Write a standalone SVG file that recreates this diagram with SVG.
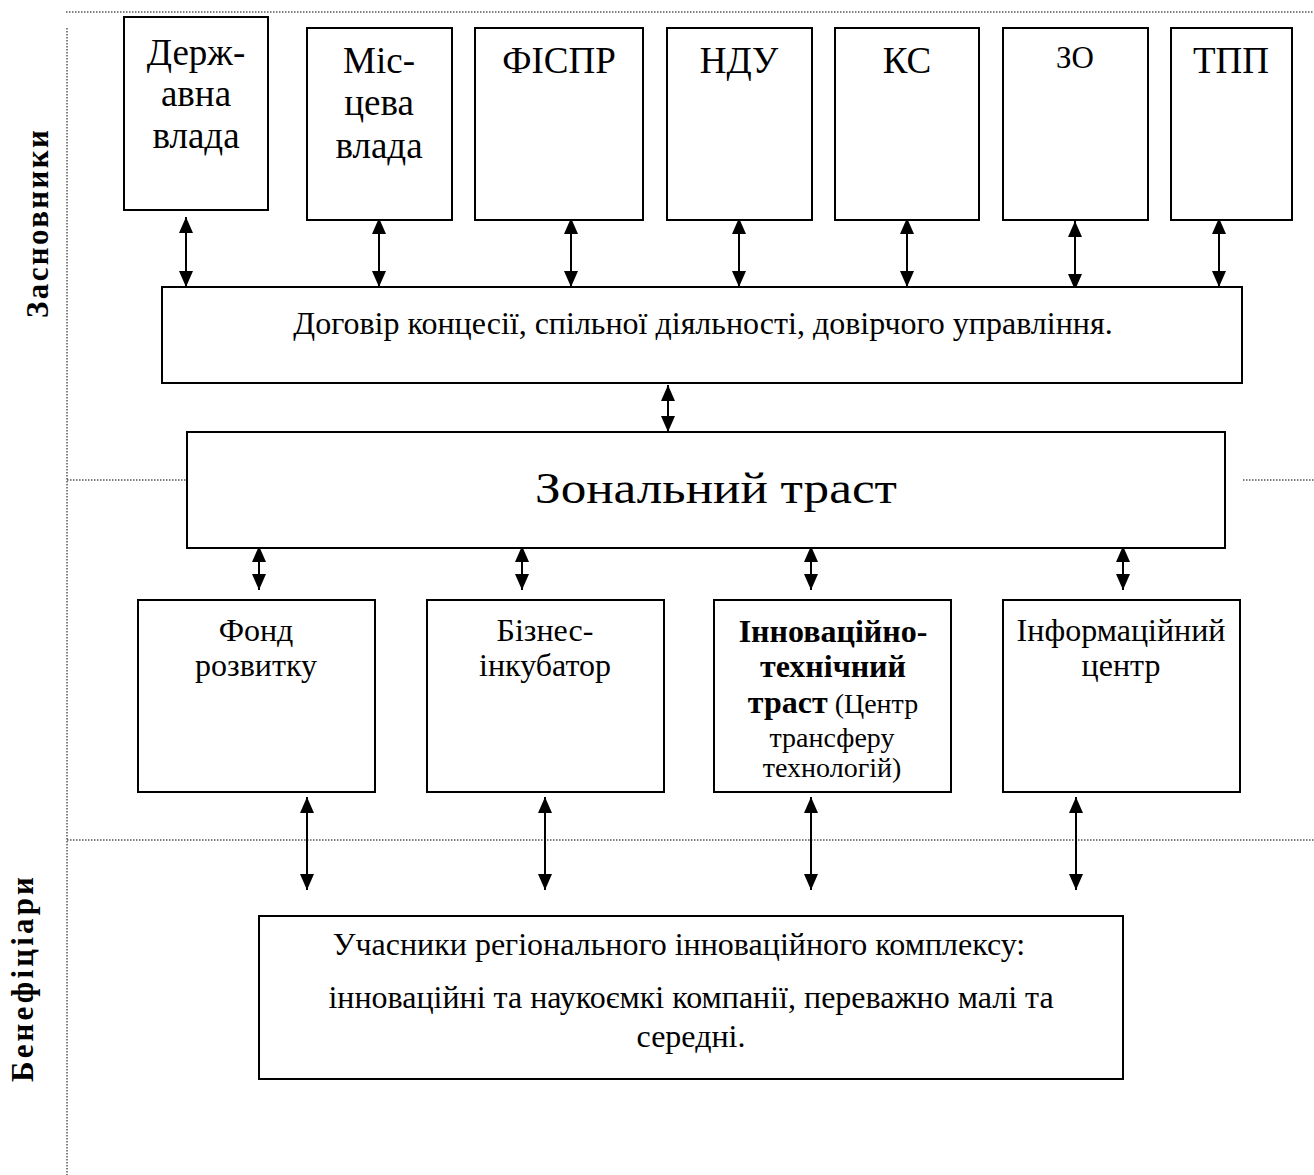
<svg xmlns="http://www.w3.org/2000/svg" width="1314" height="1175" viewBox="0 0 1314 1175">
<style>
.box{fill:#fff;stroke:#000;stroke-width:2}
.t{font-family:"Liberation Serif","Times New Roman",serif;fill:#000;text-anchor:middle}
.top{font-size:37px}
.mid{font-size:32px}
.sm{font-size:28px}
.dot{stroke:#000;stroke-width:1;stroke-dasharray:1.5 1.5;fill:none}
.con{stroke:#000;stroke-width:2;fill:none;marker-start:url(#ah);marker-end:url(#ah)}
.lab{font-family:"Liberation Serif","Times New Roman",serif;font-weight:bold;font-size:31px;fill:#000}
</style>
<defs>
<marker id="ah" markerUnits="userSpaceOnUse" markerWidth="16" markerHeight="14" refX="16" refY="7" orient="auto-start-reverse">
<path d="M0,0 L16,7 L0,14 Z" fill="#000"/>
</marker>
</defs>
<rect width="1314" height="1175" fill="#fff"/>
<g id="guides">
<line class="dot" x1="66" y1="12" x2="1314" y2="12"/>
<line class="dot" x1="67" y1="28" x2="67" y2="1175"/>
<line class="dot" x1="67" y1="480" x2="186" y2="480"/>
<line class="dot" x1="1243" y1="480" x2="1314" y2="480"/>
<line class="dot" x1="67" y1="840" x2="1314" y2="840"/>
</g>
<g id="label-zasnovnyky"><text class="lab" transform="translate(48,318) rotate(-90)" textLength="188" lengthAdjust="spacing">Засновники</text></g>
<g id="label-beneficiary"><text class="lab" transform="translate(33,1082) rotate(-90)" textLength="205" lengthAdjust="spacing">Бенефіціари</text></g>
<g id="connectors">
<line class="con" x1="186" y1="217" x2="186" y2="287"/>
<line class="con" x1="379" y1="218" x2="379" y2="287"/>
<line class="con" x1="571" y1="218" x2="571" y2="287"/>
<line class="con" x1="739" y1="218" x2="739" y2="287"/>
<line class="con" x1="907" y1="218" x2="907" y2="287"/>
<line class="con" x1="1075" y1="221" x2="1075" y2="290"/>
<line class="con" x1="1219" y1="218" x2="1219" y2="287"/>
<line class="con" x1="668" y1="385" x2="668" y2="432"/>
<line class="con" x1="259" y1="546" x2="259" y2="590"/>
<line class="con" x1="522" y1="546" x2="522" y2="590"/>
<line class="con" x1="811" y1="546" x2="811" y2="590"/>
<line class="con" x1="1123" y1="546" x2="1123" y2="590"/>
<line class="con" x1="307" y1="797" x2="307" y2="890"/>
<line class="con" x1="545" y1="797" x2="545" y2="890"/>
<line class="con" x1="811" y1="797" x2="811" y2="890"/>
<line class="con" x1="1076" y1="797" x2="1076" y2="890"/>
</g>
<g id="derzh"><rect class="box" x="124" y="17" width="144" height="193"/>
<text class="t top" x="196" y="65">Держ-</text><text class="t top" x="196" y="106">авна</text><text class="t top" x="196" y="148">влада</text></g>
<g id="mists"><rect class="box" x="307" y="28" width="145" height="192"/>
<text class="t top" x="379" y="73">Міс-</text><text class="t top" x="379" y="115">цева</text><text class="t top" x="379" y="158">влада</text></g>
<g id="fispr"><rect class="box" x="475" y="28" width="168" height="192"/><text class="t top" x="559" y="73">ФІСПР</text></g>
<g id="ndu"><rect class="box" x="667" y="28" width="145" height="192"/><text class="t top" x="739" y="73">НДУ</text></g>
<g id="ks"><rect class="box" x="835" y="28" width="144" height="192"/><text class="t top" x="907" y="73">КС</text></g>
<g id="zo"><rect class="box" x="1003" y="28" width="145" height="192"/><text class="t" style="font-size:31px" x="1075" y="68">ЗО</text></g>
<g id="tpp"><rect class="box" x="1171" y="28" width="121" height="192"/><text class="t top" x="1231" y="73">ТПП</text></g>
<g id="contract"><rect class="box" x="162" y="287" width="1080" height="96"/>
<text class="t mid" x="703" y="334">Договір концесії, спільної діяльності, довірчого управління.</text></g>
<g id="trust"><rect class="box" x="187" y="432" width="1038" height="116"/>
<text class="t" style="font-size:44px;text-anchor:start" x="535" y="503" textLength="362" lengthAdjust="spacingAndGlyphs">Зональний траст</text></g>
<g id="fond"><rect class="box" x="138" y="600" width="237" height="192"/>
<text class="t mid" x="256" y="641">Фонд</text><text class="t mid" x="256" y="676">розвитку</text></g>
<g id="biznes"><rect class="box" x="427" y="600" width="237" height="192"/>
<text class="t mid" x="545" y="641">Бізнес-</text><text class="t mid" x="545" y="676">інкубатор</text></g>
<g id="innov"><rect class="box" x="714" y="600" width="237" height="192"/>
<text class="t mid" style="font-weight:bold" x="833" y="642">Інноваційно-</text>
<text class="t mid" style="font-weight:bold" x="833" y="677">технічний</text>
<text class="t mid" x="833" y="713"><tspan style="font-weight:bold">траст</tspan><tspan class="sm"> (Центр</tspan></text>
<text class="t sm" x="832" y="747">трансферу</text>
<text class="t sm" x="832" y="777">технологій)</text></g>
<g id="info"><rect class="box" x="1003" y="600" width="237" height="192"/>
<text class="t mid" x="1121" y="641">Інформаційний</text><text class="t mid" x="1121" y="676">центр</text></g>
<g id="participants"><rect class="box" x="259" y="916" width="864" height="163"/>
<text class="t mid" x="679" y="955">Учасники регіонального інноваційного комплексу:</text>
<text class="t mid" x="691" y="1008">інноваційні та наукоємкі компанії, переважно малі та</text>
<text class="t mid" x="691" y="1047">середні.</text></g>
</svg>
